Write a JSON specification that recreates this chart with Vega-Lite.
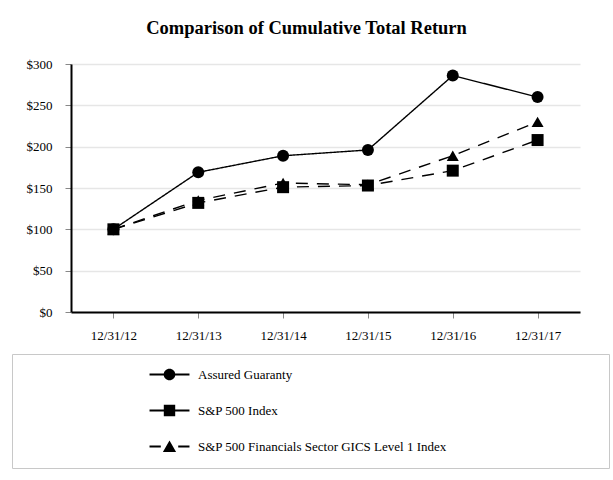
{
  "$schema": "https://vega.github.io/schema/vega-lite/v6.json",
  "autosize": "none",
  "padding": {"left": 71, "top": 64, "right": 33, "bottom": 168},
  "width": 509,
  "height": 248,
  "background": "white",
  "title": {
    "text": "Comparison of Cumulative Total Return",
    "font": "Liberation Serif",
    "fontSize": 18.5,
    "fontWeight": "bold",
    "color": "black",
    "anchor": "middle",
    "dx": -19,
    "offset": 6,
    "baseline": "alphabetic"
  },
  "config": {
    "view": {"stroke": null},
    "axis": {
      "labelFont": "Liberation Serif",
      "labelFontSize": 13,
      "labelColor": "black",
      "titleFont": "Liberation Serif"
    },
    "legend": {
      "labelFont": "Liberation Serif",
      "labelFontSize": 13,
      "labelColor": "black"
    }
  },
  "data": {
    "values": [
      {"series": "S&P 500 Financials Sector GICS Level 1 Index", "date": "12/31/12", "value": 100},
      {"series": "S&P 500 Financials Sector GICS Level 1 Index", "date": "12/31/13", "value": 135},
      {"series": "S&P 500 Financials Sector GICS Level 1 Index", "date": "12/31/14", "value": 156},
      {"series": "S&P 500 Financials Sector GICS Level 1 Index", "date": "12/31/15", "value": 154},
      {"series": "S&P 500 Financials Sector GICS Level 1 Index", "date": "12/31/16", "value": 189},
      {"series": "S&P 500 Financials Sector GICS Level 1 Index", "date": "12/31/17", "value": 230},
      {"series": "S&P 500 Index", "date": "12/31/12", "value": 100},
      {"series": "S&P 500 Index", "date": "12/31/13", "value": 132},
      {"series": "S&P 500 Index", "date": "12/31/14", "value": 151},
      {"series": "S&P 500 Index", "date": "12/31/15", "value": 153},
      {"series": "S&P 500 Index", "date": "12/31/16", "value": 171},
      {"series": "S&P 500 Index", "date": "12/31/17", "value": 208},
      {"series": "Assured Guaranty", "date": "12/31/12", "value": 100},
      {"series": "Assured Guaranty", "date": "12/31/13", "value": 169},
      {"series": "Assured Guaranty", "date": "12/31/14", "value": 189},
      {"series": "Assured Guaranty", "date": "12/31/15", "value": 196},
      {"series": "Assured Guaranty", "date": "12/31/16", "value": 286},
      {"series": "Assured Guaranty", "date": "12/31/17", "value": 260}
    ]
  },
  "encoding": {
    "x": {
      "field": "date",
      "type": "ordinal",
      "scale": {"type": "point", "padding": 0.5},
      "axis": {
        "title": null,
        "labelAngle": 0,
        "domainColor": "black",
        "domainWidth": 2,
        "tickColor": "#888888",
        "tickSize": 6,
        "labelPadding": 11,
        "grid": false
      }
    },
    "y": {
      "field": "value",
      "type": "quantitative",
      "scale": {"domain": [0, 300], "nice": false},
      "axis": {
        "title": null,
        "values": [0, 50, 100, 150, 200, 250, 300],
        "format": "$d",
        "domainColor": "black",
        "domainWidth": 2,
        "tickColor": "#888888",
        "tickSize": 6,
        "labelPadding": 13,
        "grid": true,
        "gridColor": "#e6e6e6",
        "gridWidth": 1.5
      }
    }
  },
  "layer": [
    {
      "mark": {"type": "line", "color": "black", "strokeWidth": 1.4},
      "encoding": {
        "detail": {"field": "series"},
        "strokeDash": {
          "field": "series",
          "scale": {
            "domain": ["Assured Guaranty", "S&P 500 Index", "S&P 500 Financials Sector GICS Level 1 Index"],
            "range": [[1, 0], [12, 9], [12, 9]]
          },
          "legend": null
        }
      }
    },
    {
      "mark": {"type": "point", "filled": true, "color": "black", "opacity": 1, "size": 144, "strokeWidth": 0},
      "encoding": {
        "shape": {
          "field": "series",
          "scale": {
            "domain": ["Assured Guaranty", "S&P 500 Index", "S&P 500 Financials Sector GICS Level 1 Index"],
            "range": ["circle", "square", "triangle-up"]
          },
          "legend": null
        }
      }
    },
    {
      "mark": {"type": "point", "filled": true, "color": "black", "opacity": 0, "size": 144},
      "encoding": {
        "shape": {
          "field": "series",
          "scale": {
            "domain": ["Assured Guaranty", "S&P 500 Index", "S&P 500 Financials Sector GICS Level 1 Index"],
            "range": [
              "M-3.33,-0.16H-0.9V0.16H-3.33Z M0.9,-0.16H3.33V0.16H0.9Z M0.97,0A0.97,0.97 0 1,1 -0.97,0A0.97,0.97 0 1,1 0.97,0Z M70.8,0",
              "M-3.33,-0.16H-0.95V0.16H-3.33Z M0.95,-0.16H3.33V0.16H0.95Z M-0.95,-0.95H0.95V0.95H-0.95Z M70.8,0",
              "M-3.33,-0.16H-1.45V0.16H-3.33Z M1.45,-0.16H3.33V0.16H1.45Z M0,-1L1.1,0.9H-1.1Z M70.8,0"
            ]
          },
          "legend": {
            "title": null,
            "orient": "none",
            "legendX": -59,
            "legendY": 290,
            "padding": 14,
            "strokeColor": "#c8c8c8",
            "symbolSize": 144,
            "symbolStrokeWidth": 0,
            "symbolFillColor": "black",
            "symbolOffset": 137,
            "labelOffset": 22,
            "labelLimit": 500,
            "rowPadding": 22
          }
        }
      }
    }
  ],
  "resolve": {"scale": {"shape": "independent", "strokeDash": "independent"}}
}
